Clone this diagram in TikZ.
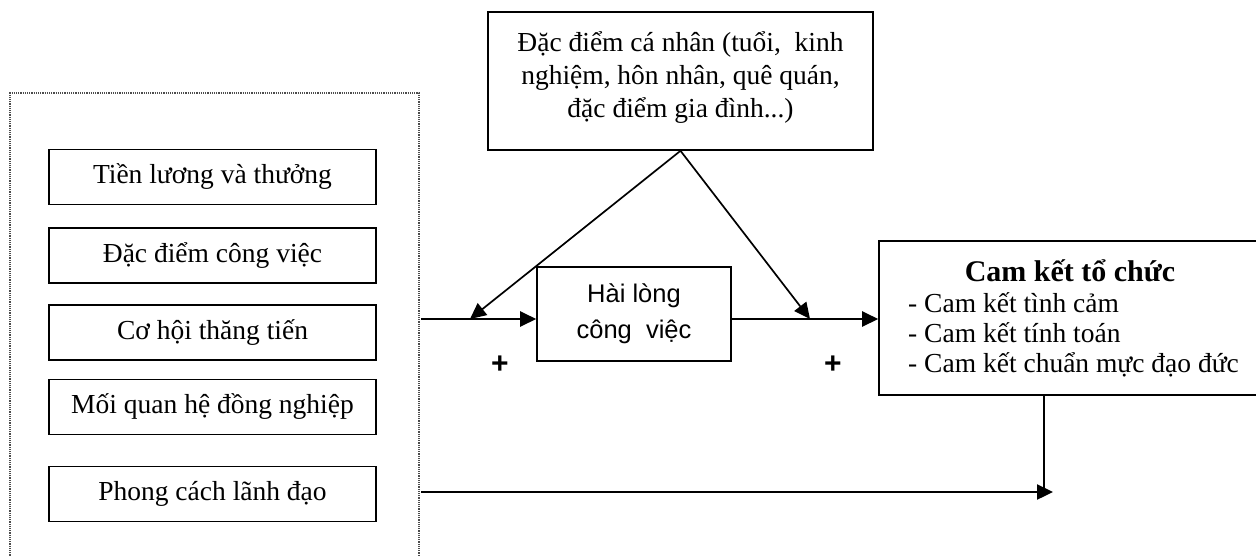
\documentclass[tikz,border=0pt]{standalone}
\usepackage{fontspec}
\setmainfont{Liberation Serif}
\newfontfamily\arialf{Liberation Sans}
\usetikzlibrary{arrows.meta}
\tikzset{
  factor/.style={draw, line width=1.6pt, minimum width=327pt, minimum height=55pt, inner sep=0pt,
    font=\fontsize{27.5}{31}\selectfont},
  conn/.style={line width=2.4pt},
  arr/.style={conn, -{Triangle[length=16pt,width=15pt]}},
  plus/.style={font=\arialf\bfseries\fontsize{30}{30}\selectfont, inner sep=0pt},
}
\begin{document}
\begin{tikzpicture}[x=1pt,y=-1pt]
\useasboundingbox (0,0) rectangle (1256,557);
% dotted container (open at the bottom)
\draw[densely dotted, line width=1.2pt, black!70] (10,560) -- (10,93) -- (419,93) -- (419,560);
% factor boxes
\node[factor] (f1) at (212.5,177) {Tiền lương và thưởng};
\node[factor] (f2) at (212.5,255.5) {Đặc điểm công việc};
\node[factor] (f3) at (212.5,332.5) {Cơ hội thăng tiến};
\node[factor] (f4) at (212.5,407) {Mối quan hệ đồng nghiệp};
\node[factor] (f5) at (212.5,494) {Phong cách lãnh đạo};
% personal characteristics
\node[draw, line width=1.6pt, minimum width=385pt, minimum height=138pt, inner sep=0pt] (pc) at (680.5,81) {};
\node[align=center, inner sep=0pt, anchor=base, font=\fontsize{27.5}{33}\selectfont] (pct) at (680.5,117)
  {Đặc điểm cá nhân (tuổi,\ \ kinh\\nghiệm, hôn nhân, quê quán,\\đặc điểm gia đình...)};
% job satisfaction
\node[draw, line width=1.6pt, minimum width=194pt, minimum height=94pt, inner sep=0pt, align=center,
  font=\arialf\fontsize{25.5}{36}\selectfont] (hl) at (634,314) {Hài lòng\\công\ \ việc};
% organizational commitment
\node[draw, line width=1.6pt, minimum width=383pt, minimum height=154pt, inner sep=0pt] (ck) at (1070.5,318) {};
\node[font=\bfseries\fontsize{30}{30}\selectfont, inner sep=0pt, anchor=base] (ckt) at (1070,281) {Cam kết tổ chức};
\node[font=\fontsize{27.5}{30}\selectfont, inner sep=0pt, anchor=base west, align=left] (ckl) at (908,372)
  {- Cam kết tình cảm\\- Cam kết tính toán\\- Cam kết chuẩn mực đạo đức};
% connector points
\coordinate (jin) at (421,319);
\coordinate (m1) at (470,319);
\coordinate (m2) at (810,319);
\coordinate (low) at (421,492);
\coordinate (vtop) at (1044,395);
\coordinate (vbot) at (1044,492);
\coordinate (tip) at (1053,492);
% connectors
\draw[arr] (jin) -- (hl.west |- jin);
\draw[arr] (hl.east |- jin) -- (ck.west |- jin);
\draw[arr, line width=1.7pt] (pc.south) -- (m1);
\draw[arr, line width=1.7pt] (pc.south) -- (m2);
\draw[conn] (vtop) -- (vbot);
\draw[arr] (low) -- (tip);
% signs
\node[plus] (p1) at (500,365) {+};
\node[plus] (p2) at (833,365) {+};
\end{tikzpicture}
\end{document}
